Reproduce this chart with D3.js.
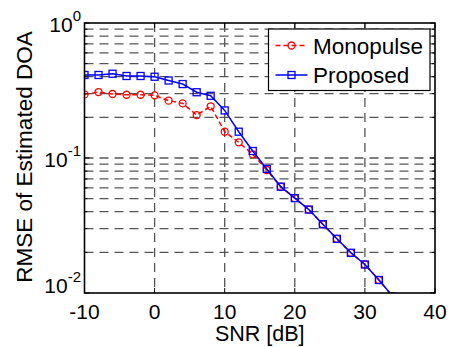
<!DOCTYPE html>
<html>
<head>
<meta charset="utf-8">
<script src="https://cdn.jsdelivr.net/npm/d3@7"></script>
<style>
  html, body { margin: 0; padding: 0; background: #fff; }
  text { font-family: Arial, "Liberation Sans", Helvetica, sans-serif; fill: #000; }
</style>
</head>
<body>
<div id="chart"></div>
<script>
// SNR [dB] sample points
const snr = [-10, -8, -6, -4, -2, 0, 2, 4, 6, 8, 10, 12, 14, 16, 18, 20, 22, 24, 26, 28, 30, 32, 34];
const monopulse = [0.296, 0.308, 0.298, 0.294, 0.294, 0.291, 0.266, 0.254, 0.208, 0.2415, 0.1566,
  0.1306, 0.1065, 0.0815, 0.0613, 0.0504, 0.0415, 0.0323, 0.0252, 0.01985, 0.01626, 0.01248, 0.0094];
const proposed = [0.412, 0.412, 0.421, 0.405, 0.405, 0.400, 0.375, 0.353, 0.307, 0.289, 0.225,
  0.1566, 0.1127, 0.0829, 0.0613, 0.0504, 0.0415, 0.0323, 0.0252, 0.01985, 0.01626, 0.01248, 0.0094];
const xTicks = [-10, 0, 10, 20, 30, 40];
const yTicks = [1, 0.1, 0.01];
const yTickExp = ['0', '-1', '-2'];
const seriesNames = ['Monopulse', 'Proposed'];

const width = 452, height = 347;
const plotLeft = 84.5, plotRight = 435, plotTop = 23, plotBottom = 293;

const svg = d3.select('#chart').append('svg')
  .attr('width', width)
  .attr('height', height);

const x = d3.scaleLinear().domain([-10, 40]).range([plotLeft, plotRight]);
const y = d3.scaleLog().domain([0.01, 1]).range([plotBottom, plotTop]);

svg.append('clipPath').attr('id', 'plot-clip')
  .append('rect')
  .attr('x', plotLeft).attr('y', plotTop)
  .attr('width', plotRight - plotLeft).attr('height', plotBottom - plotTop);

// minor + major log grid values
const yGrid = [];
[0.01, 0.1].forEach(dec => {
  for (let k = 1; k < 10; k++) yGrid.push(dec * k);
});
yGrid.push(1);

const grid = svg.append('g')
  .attr('stroke', '#555')
  .attr('stroke-width', 1.3)
  .attr('stroke-dasharray', '9,6');

grid.selectAll('line.hg')
  .data(yGrid.filter(v => v > 0.0101 && v < 0.99))
  .enter().append('line')
  .attr('class', 'hg')
  .attr('x1', plotLeft).attr('x2', plotRight)
  .attr('y1', d => y(d)).attr('y2', d => y(d));

grid.selectAll('line.vg')
  .data(xTicks.slice(1, -1))
  .enter().append('line')
  .attr('class', 'vg')
  .attr('x1', d => x(d)).attr('x2', d => x(d))
  .attr('y1', plotTop).attr('y2', plotBottom);

// tick marks (inside, on all four sides)
const ticks = svg.append('g').attr('stroke', '#000').attr('stroke-width', 1);
yGrid.forEach(v => {
  const len = [0.01, 0.1, 1].some(m => Math.abs(m - v) < 1e-9) ? 5 : 3;
  ticks.append('line').attr('x1', plotLeft).attr('x2', plotLeft + len).attr('y1', y(v)).attr('y2', y(v));
  ticks.append('line').attr('x1', plotRight).attr('x2', plotRight - len).attr('y1', y(v)).attr('y2', y(v));
});
xTicks.forEach(v => {
  ticks.append('line').attr('x1', x(v)).attr('x2', x(v)).attr('y1', plotBottom).attr('y2', plotBottom - 5);
  ticks.append('line').attr('x1', x(v)).attr('x2', x(v)).attr('y1', plotTop).attr('y2', plotTop + 5);
});

// series
const plot = svg.append('g').attr('clip-path', 'url(#plot-clip)');
const line = d3.line()
  .x(d => x(d[0]))
  .y(d => y(d[1]));

const monoData = snr.map((s, i) => [s, monopulse[i]]);
const propData = snr.map((s, i) => [s, proposed[i]]);

plot.append('path')
  .datum(monoData)
  .attr('fill', 'none')
  .attr('stroke', '#ff0000')
  .attr('stroke-width', 1.5)
  .attr('stroke-dasharray', '5,3')
  .attr('d', line);
plot.selectAll('circle.mono')
  .data(monoData)
  .enter().append('circle')
  .attr('class', 'mono')
  .attr('cx', d => x(d[0]))
  .attr('cy', d => y(d[1]))
  .attr('r', 3.5)
  .attr('fill', 'none')
  .attr('stroke', '#ff0000')
  .attr('stroke-width', 1.3);

plot.append('path')
  .datum(propData)
  .attr('fill', 'none')
  .attr('stroke', '#0000ff')
  .attr('stroke-width', 1.5)
  .attr('d', line);
plot.selectAll('rect.prop')
  .data(propData)
  .enter().append('rect')
  .attr('class', 'prop')
  .attr('x', d => x(d[0]) - 3.5)
  .attr('y', d => y(d[1]) - 3.5)
  .attr('width', 7).attr('height', 7)
  .attr('fill', 'none')
  .attr('stroke', '#0000ff')
  .attr('stroke-width', 1.3);

// axes box
svg.append('rect')
  .attr('x', plotLeft).attr('y', plotTop)
  .attr('width', plotRight - plotLeft).attr('height', plotBottom - plotTop)
  .attr('fill', 'none')
  .attr('stroke', '#000')
  .attr('stroke-width', 1.6);

// tick labels
svg.selectAll('text.xt')
  .data(xTicks)
  .enter().append('text')
  .attr('class', 'xt')
  .attr('x', d => x(d))
  .attr('y', 319)
  .attr('text-anchor', 'middle')
  .style('font-size', '21px')
  .text(d => d);

yTicks.forEach((v, i) => {
  const off = i === yTicks.length - 1 ? 0 : 8.5;
  const t = svg.append('text')
    .attr('x', 81)
    .attr('y', y(v) + off)
    .attr('text-anchor', 'end')
    .style('font-size', '21px');
  t.append('tspan').text('10');
  t.append('tspan')
    .attr('dy', -11)
    .style('font-size', '15px')
    .text(yTickExp[i]);
});

// axis labels
svg.append('text')
  .attr('x', (plotLeft + plotRight) / 2)
  .attr('y', 341)
  .attr('text-anchor', 'middle')
  .style('font-size', '21.5px')
  .text('SNR [dB]');

svg.append('text')
  .attr('transform', `translate(31.5, ${(28 + 286) / 2}) rotate(-90)`)
  .attr('text-anchor', 'middle')
  .style('font-size', '22.5px')
  .text('RMSE of Estimated DOA');

// legend
const legend = svg.append('g');
legend.append('rect')
  .attr('x', 268.5).attr('y', 29)
  .attr('width', 161.5).attr('height', 61.5)
  .attr('fill', '#fff')
  .attr('stroke', '#000')
  .attr('stroke-width', 1.2);

const rowY = [45.5, 75];
seriesNames.forEach((name, i) => {
  const g = legend.append('g');
  const yy = rowY[i];
  g.append('line')
    .attr('x1', 275.5).attr('x2', 307.5)
    .attr('y1', yy).attr('y2', yy)
    .attr('stroke', i === 0 ? '#ff0000' : '#0000ff')
    .attr('stroke-width', 1.5)
    .attr('stroke-dasharray', i === 0 ? '5,3' : null);
  if (i === 0) {
    g.append('circle')
      .attr('cx', 291.5).attr('cy', yy).attr('r', 3.5)
      .attr('fill', 'none').attr('stroke', '#ff0000').attr('stroke-width', 1.3);
  } else {
    g.append('rect')
      .attr('x', 288).attr('y', yy - 3.5).attr('width', 7).attr('height', 7)
      .attr('fill', 'none').attr('stroke', '#0000ff').attr('stroke-width', 1.3);
  }
  g.append('text')
    .attr('x', 313)
    .attr('y', yy + 8)
    .style('font-size', '22.5px')
    .text(name);
});
</script>
</body>
</html>
